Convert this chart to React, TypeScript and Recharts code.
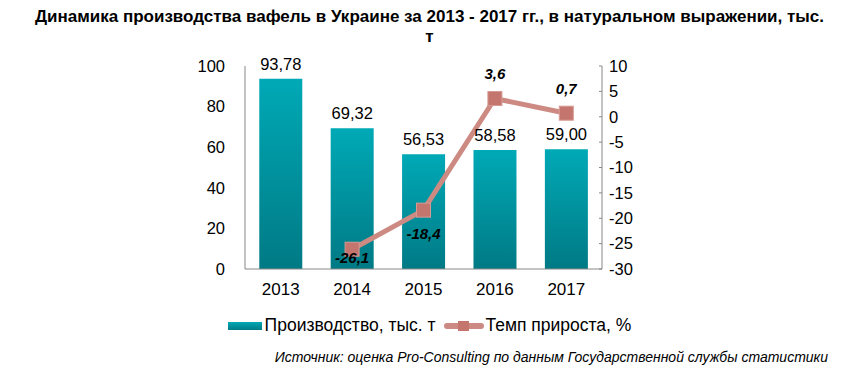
import React from 'react';
import { ComposedChart, Bar, Line, XAxis, YAxis, LabelList } from 'recharts';

const years = ['2013', '2014', '2015', '2016', '2017'];
const production = [93.78, 69.32, 56.53, 58.58, 59.0];
const growth: (number | null)[] = [null, -26.1, -18.4, 3.6, 0.7];
const leftTicks = [0, 20, 40, 60, 80, 100];
const rightTicks = [-30, -25, -20, -15, -10, -5, 0, 5, 10];

const data = years.map((y, i) => ({ year: y, prod: production[i], growth: growth[i] }));

const fmt2 = (v: number) => v.toFixed(2).replace('.', ',');
const fmt1 = (v: number) => v.toFixed(1).replace('.', ',');

const FONT = '"Liberation Sans", Arial, sans-serif';
const PLOT_BOTTOM = 269;

const SquareDot = (props: any) => {
  const { cx, cy, value } = props;
  if (value == null || cx == null || cy == null) return null;
  return <rect x={cx - 7} y={cy - 7} width={14} height={14} fill="#C4766E" stroke="#D59A93" strokeWidth={1} />;
};

const GrowthLabel = (props: any) => {
  const { x, y, value } = props;
  if (value == null) return null;
  const ly = value < 0 ? Math.min(y + 25, PLOT_BOTTOM - 10) : y - 23;
  return (
    <text x={x} y={ly} textAnchor="middle" dominantBaseline="middle" fontFamily={FONT} fontSize={15} fontWeight="bold" fontStyle="italic" fill="#000">
      {fmt1(value)}
    </text>
  );
};

const LegendBlock = () => (
  <div style={{ position: 'absolute', left: 0, top: 315, width: 859, display: 'flex', alignItems: 'center', justifyContent: 'center', fontFamily: FONT, fontSize: 17.5, color: '#000', whiteSpace: 'nowrap' }}>
    <span style={{ display: 'inline-block', width: 34, height: 8, background: 'linear-gradient(#00A8B4,#007C87)', marginRight: 3 }} />
    <span style={{ marginRight: 8 }}>Производство, тыс. т</span>
    <svg width={40} height={12} style={{ marginRight: 2 }}>
      <line x1={3} y1={6} x2={37} y2={6} stroke="#CC8A82" strokeWidth={6} strokeLinecap="round" />
      <rect x={14} y={1} width={11} height={10} fill="#C4766E" />
    </svg>
    <span>Темп прироста, %</span>
  </div>
);

export default function App() {
  return (
    <div style={{ position: 'absolute', left: 0, top: 0, width: 859, height: 376, background: '#fff', fontFamily: FONT }}>
      <div style={{ position: 'absolute', left: 0, top: 7, width: 859, textAlign: 'center', fontSize: 17, fontWeight: 'bold', lineHeight: '20px', color: '#000' }}>
        <div>Динамика производства вафель в Украине за 2013 - 2017 гг., в натуральном выражении, тыс.</div>
        <div>т</div>
      </div>
      <ComposedChart width={859} height={376} data={data} margin={{ top: 66, right: 197, bottom: 77, left: 185 }} barCategoryGap="20%">
        <defs>
          <linearGradient id="barGrad" x1="0" y1="0" x2="0" y2="1">
            <stop offset="0%" stopColor="#00A9B6" />
            <stop offset="100%" stopColor="#007A85" />
          </linearGradient>
        </defs>
        <XAxis dataKey="year" height={30} axisLine={{ stroke: '#888' }} tickLine={false} tick={{ fill: '#000', fontSize: 17, fontFamily: FONT }} tickMargin={8} />
        <YAxis yAxisId="left" width={60} domain={[0, 100]} ticks={leftTicks} axisLine={{ stroke: '#888' }} tickLine={false} tick={{ fill: '#000', fontSize: 16.5, fontFamily: FONT }} tickMargin={14} />
        <YAxis yAxisId="right" orientation="right" width={60} domain={[-30, 10]} ticks={rightTicks} axisLine={{ stroke: '#888' }} tickLine={{ stroke: '#888' }} tickSize={-3} tick={{ fill: '#000', fontSize: 16.5, fontFamily: FONT }} tickMargin={10} />
        <Bar yAxisId="left" dataKey="prod" fill="url(#barGrad)" isAnimationActive={false}>
          <LabelList dataKey="prod" position="top" offset={9} formatter={(v: any) => fmt2(Number(v))} style={{ fill: '#000', fontSize: 16.5, fontFamily: FONT }} />
        </Bar>
        <Line yAxisId="right" dataKey="growth" stroke="#CC8A82" strokeWidth={5} dot={<SquareDot />} activeDot={false} isAnimationActive={false} connectNulls={false}>
          <LabelList dataKey="growth" content={<GrowthLabel />} />
        </Line>
      </ComposedChart>
      <LegendBlock />
      <div style={{ position: 'absolute', right: 31, top: 349, fontSize: 14, fontStyle: 'italic', color: '#000' }}>
        Источник: оценка Pro-Consulting по данным Государственной службы статистики
      </div>
    </div>
  );
}
